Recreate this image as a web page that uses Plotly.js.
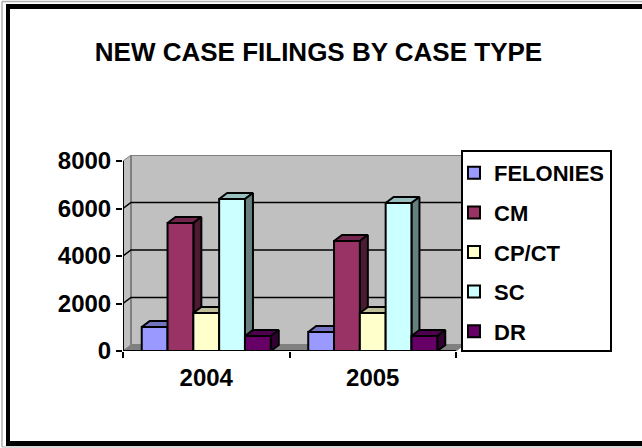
<!DOCTYPE html>
<html><head><meta charset="utf-8">
<script src="https://cdn.plot.ly/plotly-3.0.1.min.js"></script>
<style>html,body{margin:0;padding:0;background:#fff}#c{width:642px;height:448px}</style>
</head><body><div id="c"></div>
<script>
const years = ['2004', '2005'];
const FELONIES = [1010, 800];
const CM = [5390, 4630];
const CPCT = [1600, 1600];
const SC = [6400, 6230];
const DR = [630, 630];
const seriesNames = ['FELONIES', 'CM', 'CP/CT', 'SC', 'DR'];
const seriesValues = [FELONIES, CM, CPCT, SC, DR];
const frontColors = ['#9999ff', '#993366', '#ffffcc', '#ccffff', '#660066'];
const topColors = ['#7373bf', '#73264d', '#bfbf99', '#99bfbf', '#4d004d'];
const sideColors = ['#4d4d80', '#4d1a33', '#808066', '#668080', '#330033'];
const yTicks = [0, 2000, 4000, 6000, 8000];

const W = 642, H = 448;
const L = 123, R = 470, T = 155, B = 351;
const pxPerCat = 166.5, pxPerUnit = 190 / 8000;
const depthX = 8 / pxPerCat, depthY = 6 / pxPerUnit;
const xMin = -0.5, xMax = -0.5 + (R - L) / pxPerCat;
const yMax = (B - T) / pxPerUnit;
const barGroup = 0.775, barW = barGroup / seriesNames.length;
const FONT = 'Liberation Sans, Arial, sans-serif';
const px = x => (x - L) / (R - L), py = y => (B - y) / (B - T);
const black = {color: '#000', width: 2};

const traces = [];
seriesNames.forEach((name, i) => {
  const vals = seriesValues[i];
  const tx = [], ty = [], sx = [], sy = [];
  vals.forEach((v, c) => {
    const x0 = c - barGroup / 2 + i * barW, x1 = x0 + barW;
    tx.push(x0, x0 + depthX, x1 + depthX, x1, x0, null);
    ty.push(v, v + depthY, v + depthY, v, v, null);
    sx.push(x1, x1 + depthX, x1 + depthX, x1, x1, null);
    sy.push(0, depthY, v + depthY, v, 0, null);
  });
  const poly = (xs, ys, col) => ({type: 'scatter', mode: 'lines', x: xs, y: ys, fill: 'toself', fillcolor: col,
    line: black, showlegend: false, hoverinfo: 'skip', zorder: 3 * i});
  traces.push(poly(tx, ty, topColors[i]));
  traces.push(poly(sx, sy, sideColors[i]));
  traces.push({type: 'bar', name, x: [0, 1], y: vals, width: barW, offset: -barGroup / 2 + i * barW,
    marker: {color: frontColors[i], line: black}, legendgroup: name, zorder: 3 * i + 1});
});

const shapes = [];
const pline = (x0, y0, x1, y1, color, width) => ({type: 'line', xref: 'paper', yref: 'paper',
  x0: px(x0), x1: px(x1), y0: py(y0), y1: py(y1), line: {color, width}, layer: 'above'});
// outer frame: open on the right, as in the picture
shapes.push(pline(2, 1.5, 642, 1.5, '#b0b0b0', 1.5));
shapes.push(pline(2, 1.5, 2, 447, '#b0b0b0', 1.5));
shapes.push(pline(2, 447, 642, 447, '#b0b0b0', 1));
shapes.push(pline(6, 6.5, 642, 6.5, '#000', 5));
shapes.push(pline(8, 4, 8, 446, '#000', 4));
shapes.push(pline(6, 443.5, 642, 443.5, '#000', 5));
// walls
const gray = '#808080';
const path = (d, fill, line) => ({type: 'path', xref: 'x', yref: 'y', path: d, fillcolor: fill, line, layer: 'below'});
const xr = 1.5;
shapes.push(path(`M${xMin},0 L${xMin + depthX},${depthY} L${xMin + depthX},${8000 + depthY} L${xMin},8000 Z`, '#c0c0c0', {color: gray, width: 1}));
shapes.push(path(`M${xMin},0 L${xMin + depthX},${depthY} L${xr + depthX},${depthY} L${xr},0 Z`, gray, {color: gray, width: 1}));
shapes.push(path(`M${xMin + depthX},${depthY} H${xr + depthX} V${8000 + depthY} H${xMin + depthX} Z`, '#c0c0c0', {color: gray, width: 2}));
yTicks.slice(1, -1).forEach(v => shapes.push(path(`M${xMin},${v} L${xMin + depthX},${v + depthY} H${xr + depthX}`, 'rgba(0,0,0,0)', {color: '#000', width: 1.5})));
// axis lines
shapes.push({type: 'line', xref: 'x', yref: 'y', x0: xMin, x1: xMin, y0: 0, y1: 8000, line: {color: '#000', width: 2}, layer: 'below'});
shapes.push({type: 'line', xref: 'x', yref: 'y', x0: xMin, x1: xr, y0: 0, y1: 0, line: {color: '#000', width: 2}, layer: 'below'});
// legend box
shapes.push({type: 'rect', xref: 'paper', yref: 'paper', x0: px(462), x1: px(611), y0: py(151), y1: py(351),
  fillcolor: '#fff', line: {color: '#000', width: 2}, layer: 'above'});

const layout = {
  width: W, height: H, autosize: false, showlegend: true, barmode: 'overlay',
  paper_bgcolor: '#fff', plot_bgcolor: '#fff', hovermode: false,
  margin: {l: L, r: W - R, t: T, b: H - B, pad: 0},
  font: {family: FONT, color: '#000'},
  title: {text: '<b>NEW CASE FILINGS BY CASE TYPE</b>', font: {family: FONT, size: 26, color: '#000'},
    x: 318.5 / W, xanchor: 'center', y: 1 - 52 / H, yanchor: 'middle'},
  xaxis: {type: 'linear', range: [xMin, xMax], tickvals: [0, 1], ticktext: years.map(s => '<b>' + s + '</b>'),
    ticks: '', showgrid: false, zeroline: false, showline: false, tickfont: {family: FONT, size: 24}, ticklabelstandoff: 10,
    minor: {tickvals: [-0.5, 0.5, 1.5], ticks: 'outside', ticklen: 6, tickwidth: 2, tickcolor: '#000', showgrid: false}},
  yaxis: {range: [0, yMax], tickvals: yTicks, ticktext: yTicks.map(v => '<b>' + v + '</b>'), ticks: 'outside', ticklen: 6,
    tickwidth: 2, tickcolor: '#000', showgrid: false, zeroline: false, showline: false, tickfont: {family: FONT, size: 24}},
  legend: {x: px(454), xanchor: 'left', y: py(152), yanchor: 'top', bgcolor: 'rgba(0,0,0,0)', borderwidth: 0, maxheight: 320,
    font: {family: FONT, size: 22, color: '#000', weight: 'bold'}, traceorder: 'grouped', tracegroupgap: 8, itemclick: false, itemdoubleclick: false},
  shapes
};
Plotly.newPlot('c', traces, layout, {displayModeBar: false, staticPlot: true});
</script></body></html>
